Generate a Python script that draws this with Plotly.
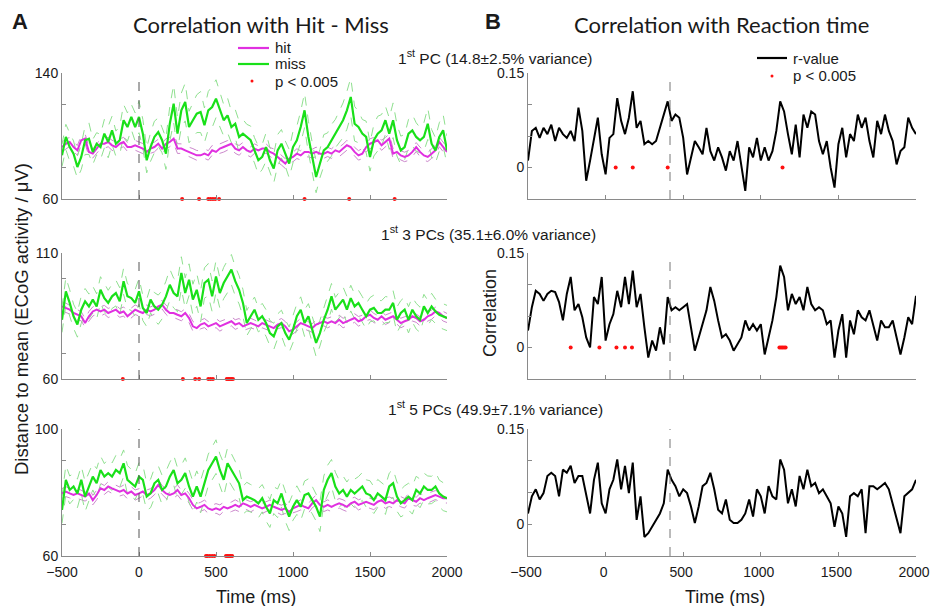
import plotly.graph_objects as go

# ---------------- data ----------------
t = list(range(-500, 2001, 25))

# Panel A (distance to mean, µV)
miss_1 = [87.7, 99.4, 93.0, 88.8, 80.3, 86.7, 97.3, 98.3, 89.9, 95.1,
          93.0, 101.5, 96.2, 103.6, 95.1, 97.3, 110.0, 105.7, 112.1, 105.7,
          112.1, 101.5, 84.6, 93.0, 99.4, 102.5, 97.3, 88.8, 107.8, 120.5,
          101.5, 116.3, 121.6, 105.7, 110.0, 114.2, 115.2, 106.8, 116.3, 118.4,
          123.7, 116.3, 110.0, 113.1, 105.7, 107.8, 99.4, 101.5, 99.4, 97.3,
          90.9, 84.6, 86.7, 93.0, 84.6, 79.3, 90.9, 95.1, 88.8, 82.5,
          93.0, 97.3, 105.7, 116.3, 99.4, 86.7, 74.0, 82.5, 90.9, 93.0,
          97.3, 101.5, 105.7, 110.0, 116.3, 124.8, 107.8, 105.7, 101.5, 99.4,
          86.7, 97.3, 101.5, 103.6, 110.0, 101.5, 110.0, 97.3, 90.9, 93.0,
          101.5, 103.6, 99.4, 97.3, 99.4, 107.8, 95.1, 90.9, 99.4, 103.6,
          90.9]
miss_1_sem = [7, 8, 9, 8, 7, 8, 9, 10, 8, 7,
              8, 9, 10, 9, 8, 9, 10, 9, 8, 9,
              10, 9, 8, 9, 10, 9, 8, 10, 11, 12,
              10, 11, 12, 10, 11, 12, 13, 11, 12, 13,
              12, 11, 10, 11, 10, 9, 10, 9, 8, 9,
              8, 9, 8, 9, 8, 9, 10, 9, 8, 9,
              10, 9, 10, 11, 10, 9, 10, 9, 10, 9,
              10, 9, 10, 11, 12, 12, 11, 10, 9, 10,
              9, 10, 11, 10, 9, 10, 11, 10, 9, 8,
              9, 10, 9, 8, 9, 10, 9, 8, 9, 10,
              9]
hit_1 = [93.0, 95.1, 96.2, 93.0, 90.9, 97.3, 98.3, 89.9, 88.8, 92.0,
         95.1, 95.1, 96.2, 94.1, 93.0, 95.1, 96.2, 93.0, 93.0, 94.1,
         93.0, 92.0, 89.9, 92.0, 93.0, 95.1, 92.0, 95.1, 96.2, 98.3,
         92.0, 92.0, 90.9, 89.9, 88.8, 87.7, 87.7, 88.8, 87.7, 90.9,
         89.9, 92.0, 93.0, 94.1, 95.1, 92.0, 90.9, 93.0, 90.9, 89.9,
         92.0, 90.9, 92.0, 92.0, 89.9, 88.8, 86.7, 84.6, 82.5, 85.6,
         86.7, 88.8, 87.7, 89.9, 89.9, 88.8, 89.9, 88.8, 88.8, 89.9,
         88.8, 90.9, 89.9, 92.0, 94.1, 93.0, 89.9, 87.7, 88.8, 93.0,
         95.1, 96.2, 97.3, 94.1, 96.2, 98.3, 88.8, 89.9, 87.7, 86.7,
         87.7, 89.9, 93.0, 89.9, 87.7, 86.7, 88.8, 90.9, 96.2, 93.0,
         89.9]
hit_1_sem = [3.0, 3.2, 2.8, 3.0, 3.1, 2.9, 3.0, 3.2, 2.8, 3.0,
             3.1, 2.9, 3.0, 3.2, 3.1, 2.9, 3.0, 2.8, 3.0, 3.1,
             3.0, 3.2, 2.9, 3.0, 3.1, 2.8, 3.0, 3.2, 3.0, 2.9,
             3.1, 3.0, 2.8, 3.0, 3.2, 3.1, 2.9, 3.0, 3.0, 3.1,
             2.9, 3.0, 3.2, 3.0, 2.8, 3.0, 3.1, 2.9, 3.0, 3.2,
             3.0, 2.9, 3.1, 3.0, 2.8, 3.0, 3.2, 3.0, 3.1, 2.9,
             3.0, 3.1, 2.9, 3.0, 3.2, 2.8, 3.0, 3.1, 3.0, 2.9,
             3.0, 3.2, 3.0, 2.8, 3.1, 3.0, 2.9, 3.0, 3.2, 3.0,
             3.1, 2.9, 3.0, 3.2, 2.8, 3.0, 3.1, 3.0, 2.9, 3.0,
             3.2, 3.0, 2.8, 3.0, 3.1, 2.9, 3.0, 3.2, 3.0, 3.1,
             3.0]

miss_3 = [83.5, 94.8, 90.2, 84.9, 81.6, 87.5, 90.8, 88.8, 91.5, 88.8,
          95.4, 92.1, 90.2, 92.8, 94.1, 90.8, 98.8, 92.8, 92.1, 90.2,
          94.8, 88.2, 86.2, 91.5, 88.8, 87.5, 89.5, 92.8, 97.4, 94.1,
          92.8, 102.1, 94.1, 99.4, 91.5, 95.4, 88.8, 98.1, 99.4, 92.8,
          100.7, 94.1, 98.1, 100.7, 103.4, 98.8, 95.4, 90.2, 82.2, 84.9,
          87.5, 83.5, 84.9, 82.2, 78.2, 76.9, 80.9, 82.2, 78.2, 75.6,
          79.6, 84.9, 87.5, 82.2, 84.9, 79.6, 74.3, 78.2, 83.5, 87.5,
          92.8, 87.5, 89.5, 91.5, 87.5, 92.1, 88.8, 90.2, 87.5, 84.9,
          87.5, 88.2, 86.2, 86.2, 87.5, 87.5, 90.2, 83.5, 86.2, 87.5,
          83.5, 87.5, 84.9, 83.5, 88.8, 86.2, 88.8, 86.8, 85.5, 84.9,
          84.2]
miss_3_sem = [5.0, 5.5, 5.2, 4.8, 5.0, 5.4, 5.1, 4.9, 5.3, 5.0,
              5.2, 5.5, 5.0, 4.8, 5.1, 5.4, 5.2, 5.0, 4.9, 5.3,
              5.1, 5.0, 5.4, 5.2, 5.5, 5.8, 5.6, 6.0, 6.2, 5.9,
              6.1, 6.4, 6.0, 6.3, 6.1, 6.5, 6.2, 6.0, 6.4, 6.1,
              6.3, 6.0, 6.2, 6.4, 6.0, 5.8, 5.6, 5.3, 5.0, 5.2,
              5.0, 4.8, 5.1, 5.3, 5.0, 5.2, 4.9, 5.1, 5.3, 5.0,
              5.2, 4.9, 5.1, 5.3, 5.0, 5.2, 5.4, 5.1, 5.0, 5.3,
              5.1, 4.9, 5.2, 5.0, 5.3, 5.1, 4.9, 5.0, 5.2, 5.0,
              4.8, 5.1, 5.0, 4.9, 5.2, 5.0, 4.8, 5.1, 4.9, 5.0,
              5.2, 4.9, 5.1, 5.0, 4.8, 5.0, 5.2, 4.9, 5.0, 5.1,
              5.0]
hit_3 = [88.8, 88.2, 87.5, 86.2, 85.5, 84.9, 82.2, 84.9, 86.8, 87.5,
         86.8, 87.5, 86.2, 86.8, 87.5, 86.2, 86.8, 84.9, 86.2, 87.5,
         86.8, 86.2, 87.5, 86.8, 87.5, 88.8, 89.5, 87.5, 86.2, 86.2,
         85.5, 84.9, 86.2, 84.2, 80.9, 80.2, 81.6, 82.2, 80.9, 81.6,
         82.2, 80.9, 81.6, 82.2, 82.9, 81.6, 82.2, 80.9, 81.6, 82.2,
         81.6, 80.9, 82.2, 81.6, 80.9, 80.2, 81.6, 82.2, 80.9, 78.9,
         79.6, 80.9, 82.2, 81.6, 80.9, 80.2, 81.6, 82.2, 82.9, 82.2,
         82.9, 82.2, 83.5, 82.2, 82.9, 83.5, 84.2, 82.9, 83.5, 84.9,
         85.5, 84.2, 83.5, 84.9, 83.5, 84.2, 84.9, 83.5, 82.2, 82.9,
         83.5, 84.9, 84.2, 82.9, 83.5, 84.9, 85.5, 86.8, 86.2, 84.9,
         84.2]
hit_3_sem = [1.8, 1.9, 1.7, 1.8, 2.0, 1.8, 1.7, 1.9, 1.8, 1.8,
             1.9, 1.7, 1.8, 1.9, 1.8, 1.7, 1.8, 2.0, 1.8, 1.9,
             1.8, 1.7, 1.9, 1.8, 1.8, 1.9, 1.7, 1.8, 2.0, 1.8,
             1.9, 1.8, 1.7, 1.8, 1.9, 1.8, 1.7, 1.8, 1.9, 1.8,
             1.8, 1.9, 1.7, 1.8, 1.8, 1.9, 1.8, 1.7, 1.8, 1.9,
             1.8, 1.7, 1.9, 1.8, 1.8, 1.9, 1.7, 1.8, 1.9, 1.8,
             1.7, 1.8, 1.9, 1.8, 1.8, 1.7, 1.9, 1.8, 1.8, 1.9,
             1.8, 1.7, 1.8, 1.9, 1.8, 1.8, 1.7, 1.9, 1.8, 1.8,
             1.9, 1.8, 1.7, 1.8, 1.9, 1.8, 1.8, 1.7, 1.9, 1.8,
             1.8, 1.9, 1.7, 1.8, 1.8, 1.9, 1.8, 1.7, 1.8, 1.9,
             1.8]

miss_5 = [74.5, 84.0, 80.8, 81.9, 79.7, 84.0, 78.7, 81.9, 85.0, 82.9,
          87.1, 85.0, 86.1, 85.0, 87.1, 86.1, 89.2, 84.0, 82.9, 81.9,
          85.0, 84.0, 78.7, 79.7, 82.9, 84.0, 80.8, 81.9, 85.0, 87.1,
          82.9, 84.0, 86.1, 81.9, 78.7, 81.9, 78.7, 82.9, 87.1, 89.2,
          91.3, 87.1, 84.0, 89.2, 87.1, 85.0, 82.9, 77.6, 78.7, 78.2,
          77.6, 76.6, 78.2, 75.5, 73.4, 77.6, 76.6, 79.7, 75.5, 72.4,
          75.5, 77.6, 75.5, 79.2, 79.7, 77.6, 75.5, 72.4, 80.8, 84.0,
          86.1, 81.9, 79.7, 80.8, 78.7, 80.8, 79.7, 80.8, 81.9, 79.7,
          79.2, 77.6, 79.7, 78.7, 77.6, 81.9, 82.9, 78.7, 76.6, 77.6,
          78.7, 77.6, 80.8, 79.7, 81.9, 80.8, 80.8, 81.9, 79.7, 78.7,
          78.2]
miss_5_sem = [4.2, 4.6, 4.4, 4.1, 4.5, 4.3, 4.7, 4.4, 4.2, 4.6,
              4.4, 4.1, 4.5, 4.3, 4.6, 4.4, 4.2, 4.5, 4.3, 4.1,
              4.4, 4.6, 4.3, 4.5, 4.7, 4.4, 4.6, 4.8, 4.5, 4.7,
              4.9, 4.6, 4.8, 5.0, 4.7, 4.9, 5.1, 4.8, 5.0, 5.2,
              5.3, 5.0, 5.2, 4.9, 5.1, 4.8, 4.6, 4.4, 4.5, 4.3,
              4.4, 4.6, 4.3, 4.5, 4.4, 4.2, 4.5, 4.3, 4.6, 4.4,
              4.2, 4.5, 4.3, 4.4, 4.6, 4.3, 4.5, 4.7, 4.4, 4.6,
              4.3, 4.5, 4.2, 4.4, 4.6, 4.3, 4.5, 4.2, 4.4, 4.3,
              4.5, 4.2, 4.4, 4.3, 4.5, 4.2, 4.4, 4.6, 4.3, 4.5,
              4.2, 4.4, 4.3, 4.5, 4.2, 4.4, 4.3, 4.5, 4.2, 4.4,
              4.3]
hit_5 = [79.7, 80.3, 79.7, 79.2, 79.7, 79.2, 78.7, 79.7, 77.6, 79.2,
         81.3, 80.8, 81.9, 81.3, 80.8, 80.3, 80.8, 79.7, 80.3, 79.2,
         79.7, 80.3, 79.2, 79.7, 80.8, 82.4, 80.8, 79.7, 79.2, 79.7,
         80.8, 79.2, 79.7, 78.2, 76.1, 75.0, 75.5, 76.1, 75.0, 74.5,
         75.0, 74.5, 75.5, 75.0, 75.5, 76.1, 75.5, 76.6, 76.1, 75.5,
         76.1, 75.5, 75.0, 75.5, 76.1, 75.5, 75.0, 74.5, 75.0, 73.9,
         75.0, 75.5, 76.1, 75.5, 75.0, 76.6, 77.6, 76.1, 75.5, 76.1,
         75.5, 76.1, 76.6, 76.1, 75.5, 76.6, 77.1, 76.1, 76.6, 77.1,
         76.6, 76.1, 77.1, 77.6, 76.6, 77.1, 76.6, 77.6, 77.1, 76.6,
         78.2, 77.6, 77.1, 78.2, 77.6, 78.2, 78.7, 79.2, 78.7, 78.2,
         78.2]
hit_5_sem = [1.5, 1.6, 1.4, 1.5, 1.6, 1.5, 1.4, 1.6, 1.5, 1.5,
             1.6, 1.4, 1.5, 1.6, 1.5, 1.4, 1.5, 1.7, 1.5, 1.6,
             1.5, 1.4, 1.6, 1.5, 1.5, 1.6, 1.4, 1.5, 1.7, 1.5,
             1.6, 1.5, 1.4, 1.5, 1.6, 1.5, 1.4, 1.5, 1.6, 1.5,
             1.5, 1.6, 1.4, 1.5, 1.5, 1.6, 1.5, 1.4, 1.5, 1.6,
             1.5, 1.4, 1.6, 1.5, 1.5, 1.6, 1.4, 1.5, 1.6, 1.5,
             1.4, 1.5, 1.6, 1.5, 1.5, 1.4, 1.6, 1.5, 1.5, 1.6,
             1.5, 1.4, 1.5, 1.6, 1.5, 1.5, 1.4, 1.6, 1.5, 1.5,
             1.6, 1.5, 1.4, 1.5, 1.6, 1.5, 1.5, 1.4, 1.6, 1.5,
             1.5, 1.6, 1.4, 1.5, 1.5, 1.6, 1.5, 1.4, 1.5, 1.6,
             1.5]

# Panel B (correlation with reaction time)
r_1 = [0.011, 0.058, 0.063, 0.047, 0.063, 0.053, 0.068, 0.042, 0.063, 0.053,
       0.047, 0.058, 0.042, 0.095, 0.058, -0.021, 0.011, 0.042, 0.079, 0.021,
       -0.011, 0.047, 0.053, 0.110, 0.074, 0.053, 0.079, 0.121, 0.063, 0.074,
       0.037, 0.042, 0.037, 0.042, 0.063, 0.084, 0.105, 0.074, 0.084, 0.079,
       0.047, -0.011, 0.016, 0.042, 0.032, 0.021, 0.063, 0.026, 0.011, 0.032,
       0.016, -0.005, 0.026, 0.011, 0.042, 0.005, -0.037, 0.032, 0.016, 0.047,
       0.011, 0.032, 0.011, 0.026, 0.058, 0.105, 0.089, 0.053, 0.021, 0.068,
       0.016, 0.084, 0.063, 0.089, 0.084, 0.042, 0.021, 0.042, 0.000, -0.032,
       0.037, 0.063, 0.016, 0.053, 0.042, 0.084, 0.063, 0.079, 0.042, 0.016,
       0.074, 0.053, 0.084, 0.058, 0.042, 0.005, 0.026, 0.032, 0.079, 0.063,
       0.053]
r_3 = [0.027, 0.064, 0.090, 0.085, 0.074, 0.085, 0.090, 0.088, 0.072, 0.043,
       0.085, 0.112, 0.059, 0.069, 0.048, 0.016, 0.000, 0.080, 0.069, 0.112,
       0.011, 0.037, 0.053, 0.090, 0.064, 0.112, 0.069, 0.122, 0.064, 0.085,
       0.032, -0.016, 0.011, -0.005, 0.032, 0.005, 0.080, 0.059, 0.064, 0.059,
       0.064, 0.069, 0.032, -0.005, 0.016, 0.037, 0.059, 0.096, 0.074, 0.043,
       0.016, 0.021, 0.011, -0.005, 0.005, 0.016, 0.043, 0.027, 0.037, 0.027,
       0.037, -0.011, 0.016, 0.043, 0.080, 0.130, 0.112, 0.059, 0.085, 0.069,
       0.080, 0.059, 0.096, 0.069, 0.059, 0.064, 0.059, 0.037, 0.043, -0.016,
       0.027, 0.053, -0.016, 0.043, 0.021, 0.059, 0.048, 0.043, 0.059, 0.037,
       0.011, 0.043, 0.032, 0.032, 0.043, 0.016, -0.011, 0.016, 0.048, 0.037,
       0.082]
r_5 = [0.017, 0.044, 0.055, 0.039, 0.049, 0.076, 0.081, 0.076, 0.044, 0.086,
       0.081, 0.092, 0.065, 0.076, 0.076, 0.049, 0.017, 0.070, 0.097, 0.033,
       0.017, 0.055, 0.070, 0.102, 0.055, 0.092, 0.049, 0.097, 0.007, 0.044,
       -0.020, -0.014, -0.004, 0.007, 0.017, 0.033, 0.086, 0.070, 0.060, 0.044,
       0.055, 0.049, 0.028, 0.002, 0.028, 0.060, 0.065, 0.081, 0.055, 0.023,
       0.017, 0.039, 0.007, 0.002, 0.002, 0.007, 0.017, 0.039, 0.012, 0.055,
       0.044, 0.017, 0.060, 0.044, 0.039, 0.102, 0.086, 0.033, 0.055, 0.028,
       0.076, 0.055, 0.086, 0.060, 0.065, 0.049, 0.055, 0.044, 0.033, -0.004,
       0.028, 0.017, -0.020, 0.044, 0.049, 0.044, 0.055, -0.014, 0.060, 0.060,
       0.055, 0.060, 0.065, 0.055, 0.033, 0.012, -0.014, 0.044, 0.049, 0.055,
       0.070]

# significant time points (p < 0.005)
sig_A1 = [280, 390, 450, 465, 480, 495, 520, 1075, 1365, 1660]
sig_A3 = [-105, 285, 365, 390, 450, 465, 480, 570, 580, 590, 600, 610]
sig_A5 = [435, 445, 460, 475, 490, 565, 575, 585, 595, 605]
sig_B1 = [65, 175, 400, 1140]
sig_B3 = [-225, -40, 70, 125, 170, 1120, 1130, 1140, 1150, 1160]
sig_B5 = []

stim_onset = 0          # dashed line in panel A
mean_rt = 415           # dashed line in panel B

x_ticks = [-500, 0, 500, 1000, 1500, 2000]
ylims_A = [[60, 140], [60, 110], [60, 100]]
yticks_A = [[60, 80, 120, 140], [60, 70, 100, 110], [60, 70, 90, 100]]
yticklabels_A = [["60", "", "", "140"], ["60", "", "", "110"], ["60", "", "", "100"]]
ylim_B = [-0.05, 0.15]
yticks_B = [-0.05, 0, 0.05, 0.1, 0.15]
yticklabels_B = ["", "0", "", "", "0.15"]

subtitles = ["1<sup>st</sup> PC (14.8±2.5% variance)",
             "1<sup>st</sup> 3 PCs (35.1±6.0% variance)",
             "1<sup>st</sup> 5 PCs (49.9±7.1% variance)"]

legend_A = ["hit", "miss", "p < 0.005"]
legend_B = ["r-value", "p < 0.005"]

# ---------------- figure ----------------
W, H = 930, 606
GREEN = "#19e019"
GREEN_D = "#8fe08f"
MAG = "#e030e0"
MAG_D = "#cc88cc"
RED = "#ff1010"
AXC = "#8a8a8a"
TXT = "#1a1a1a"
FONT = "Liberation Sans, Arial, sans-serif"

def xd(a, b):
    return [a / W, b / W]

def yd(top, bottom):
    return [1 - bottom / H, 1 - top / H]

def px(xp):
    return xp / W

def py(yp):
    return 1 - yp / H

rows_px = [(73, 199), (253, 379), (429, 556)]
colA = (62, 447)
colB = (528, 916)

fig = go.Figure()

A_data = [(miss_1, miss_1_sem, hit_1, hit_1_sem, sig_A1),
          (miss_3, miss_3_sem, hit_3, hit_3_sem, sig_A3),
          (miss_5, miss_5_sem, hit_5, hit_5_sem, sig_A5)]
B_data = [(r_1, sig_B1), (r_3, sig_B3), (r_5, sig_B5)]

layout_axes = {}
shapes = []
for i in range(3):
    ia = 2 * i + 1
    ib = 2 * i + 2
    xa = "x" if ia == 1 else f"x{ia}"
    ya = "y" if ia == 1 else f"y{ia}"
    xb = f"x{ib}"
    yb = f"y{ib}"
    miss, miss_sem, hit, hit_sem, sigA = A_data[i]
    for sgn in (1, -1):
        fig.add_trace(go.Scatter(x=t, y=[m + sgn * s for m, s in zip(hit, hit_sem)],
                                 xaxis=xa, yaxis=ya, mode="lines",
                                 line=dict(color=MAG_D, width=1, dash="dash"),
                                 showlegend=False, hoverinfo="skip"))
    for sgn in (1, -1):
        fig.add_trace(go.Scatter(x=t, y=[m + sgn * s for m, s in zip(miss, miss_sem)],
                                 xaxis=xa, yaxis=ya, mode="lines",
                                 line=dict(color=GREEN_D, width=1, dash="dash"),
                                 showlegend=False, hoverinfo="skip"))
    fig.add_trace(go.Scatter(x=t, y=hit, xaxis=xa, yaxis=ya, mode="lines",
                             line=dict(color=MAG, width=2), name="hit", showlegend=False))
    fig.add_trace(go.Scatter(x=t, y=miss, xaxis=xa, yaxis=ya, mode="lines",
                             line=dict(color=GREEN, width=2.2), name="miss", showlegend=False))
    if sigA:
        fig.add_trace(go.Scatter(x=sigA, y=[ylims_A[i][0]] * len(sigA),
                                 xaxis=xa, yaxis=ya, mode="markers", cliponaxis=False,
                                 marker=dict(color=RED, size=4, symbol="circle"),
                                 name="p < 0.005", showlegend=False))
    r, sigB = B_data[i]
    fig.add_trace(go.Scatter(x=t, y=r, xaxis=xb, yaxis=yb, mode="lines",
                             line=dict(color="#000000", width=2), name="r-value",
                             showlegend=False))
    if sigB:
        fig.add_trace(go.Scatter(x=sigB, y=[0] * len(sigB),
                                 xaxis=xb, yaxis=yb, mode="markers", cliponaxis=False,
                                 marker=dict(color=RED, size=4, symbol="circle"),
                                 name="p < 0.005", showlegend=False))

    common = dict(showline=True, linecolor=AXC, linewidth=1, ticks="inside",
                  ticklen=4, tickcolor=AXC, showgrid=False, zeroline=False,
                  automargin=False, ticklabeloverflow="allow",
                  tickfont=dict(family=FONT, size=14, color=TXT))
    top, bot = rows_px[i]
    xkey_a = "xaxis" if ia == 1 else f"xaxis{ia}"
    ykey_a = "yaxis" if ia == 1 else f"yaxis{ia}"
    layout_axes[xkey_a] = dict(common, domain=xd(*colA), range=[-500, 2000],
                               tickvals=x_ticks, showticklabels=(i == 2),
                               ticklabelstandoff=3, anchor=ya)
    layout_axes[ykey_a] = dict(common, domain=yd(top, bot), range=ylims_A[i],
                               tickvals=yticks_A[i], ticktext=yticklabels_A[i],
                               anchor=xa)
    layout_axes[f"xaxis{ib}"] = dict(common, domain=xd(*colB), range=[-500, 2000],
                                     tickvals=x_ticks, showticklabels=(i == 2),
                                     ticklabelstandoff=3, ticklabelshift=-2, anchor=yb)
    layout_axes[f"yaxis{ib}"] = dict(common, domain=yd(top, bot), range=ylim_B,
                                     tickvals=yticks_B, ticktext=yticklabels_B,
                                     anchor=xb)
    shapes.append(dict(type="line", xref=xa, yref=f"{ya} domain", x0=stim_onset,
                       x1=stim_onset, y0=0, y1=1,
                       line=dict(color="#555555", width=1, dash="dash")))
    shapes.append(dict(type="line", xref=xb, yref=f"{yb} domain", x0=mean_rt,
                       x1=mean_rt, y0=0, y1=1,
                       line=dict(color="#777777", width=1, dash="dash")))

TITLEF = "Lato, Open Sans, sans-serif"
ann = [
    dict(text="<b>A</b>", x=px(20), y=py(22), font=dict(family=FONT, size=22, color=TXT)),
    dict(text="Correlation with Hit - Miss", x=px(261), y=py(24),
         font=dict(family=TITLEF, size=22, color=TXT)),
    dict(text="<b>B</b>", x=px(493), y=py(22), font=dict(family=FONT, size=22, color=TXT)),
    dict(text="Correlation with Reaction time", x=px(721), y=py(24),
         font=dict(family=TITLEF, size=22, color=TXT)),
    dict(text=subtitles[0], x=px(495), y=py(57), font=dict(family=FONT, size=15.5, color=TXT)),
    dict(text=subtitles[1], x=px(489), y=py(233), font=dict(family=FONT, size=15.5, color=TXT)),
    dict(text=subtitles[2], x=px(495), y=py(408), font=dict(family=FONT, size=15.5, color=TXT)),
    dict(text="Distance to mean (ECoG activity / μV)", x=px(21), y=py(319), textangle=-90,
         font=dict(family=FONT, size=18.5, color=TXT)),
    dict(text="Correlation", x=px(490), y=py(313), textangle=-90,
         font=dict(family=FONT, size=18, color=TXT)),
    dict(text="Time (ms)", x=px(256), y=py(597), font=dict(family=FONT, size=18, color=TXT)),
    dict(text="Time (ms)", x=px(725), y=py(597), font=dict(family=FONT, size=18, color=TXT)),
]
for a in ann:
    a.update(xanchor="center")

# legend keys (drawn as paper-referenced key samples)
legA_rows = [48, 64, 81]
legA_keys = [("line", MAG), ("line", GREEN), ("dot", RED)]
for (kind, col), yy, lbl in zip(legA_keys, legA_rows, legend_A):
    if kind == "line":
        shapes.append(dict(type="line", xref="paper", yref="paper", x0=px(238), x1=px(269),
                           y0=py(yy), y1=py(yy), line=dict(color=col, width=2.2)))
    else:
        shapes.append(dict(type="circle", xref="paper", yref="paper", x0=px(250.5), x1=px(253.5),
                           y0=py(yy + 1.5), y1=py(yy - 1.5), fillcolor=col, line=dict(width=0)))
    ann.append(dict(text=lbl, x=px(273), y=py(yy), xanchor="left",
                    font=dict(family=FONT, size=15, color=TXT)))

legB_rows = [58, 76]
legB_keys = [("line", "#000000"), ("dot", RED)]
for (kind, col), yy, lbl in zip(legB_keys, legB_rows, legend_B):
    if kind == "line":
        shapes.append(dict(type="line", xref="paper", yref="paper", x0=px(757), x1=px(787),
                           y0=py(yy), y1=py(yy), line=dict(color=col, width=2.2)))
    else:
        shapes.append(dict(type="circle", xref="paper", yref="paper", x0=px(770.5), x1=px(773.5),
                           y0=py(yy + 1.5), y1=py(yy - 1.5), fillcolor=col, line=dict(width=0)))
    ann.append(dict(text=lbl, x=px(791), y=py(yy), xanchor="left",
                    font=dict(family=FONT, size=15, color=TXT)))

for a in ann:
    a.update(xref="paper", yref="paper", showarrow=False, yanchor="middle")

fig.update_layout(
    width=W, height=H, margin=dict(l=0, r=0, t=0, b=0, autoexpand=False),
    paper_bgcolor="white", plot_bgcolor="white",
    font=dict(family=FONT, color=TXT),
    shapes=shapes, annotations=ann, showlegend=False,
    **layout_axes,
)

fig.write_html("out.html")
